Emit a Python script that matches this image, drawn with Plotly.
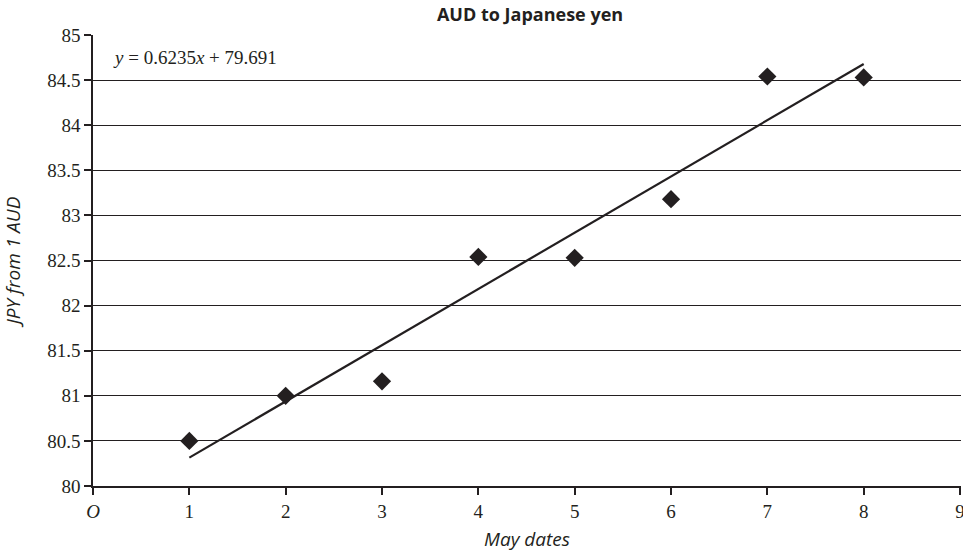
import plotly.graph_objects as go

# Data
may_dates = [1, 2, 3, 4, 5, 6, 7, 8]
jpy_per_aud = [80.5, 81.0, 81.16, 82.54, 82.53, 83.18, 84.54, 84.53]

# Trendline (as stated on the chart)
slope = 0.6235
intercept = 79.691
trend_x = [1, 8]
trend_y = [slope * x + intercept for x in trend_x]

x_tickvals = [0, 1, 2, 3, 4, 5, 6, 7, 8, 9]
x_ticktext = ["<i>O</i>", "1", "2", "3", "4", "5", "6", "7", "8", "9"]
y_tickvals = [80, 80.5, 81, 81.5, 82, 82.5, 83, 83.5, 84, 84.5, 85]
y_ticktext = ["80", "80.5", "81", "81.5", "82", "82.5", "83", "83.5", "84", "84.5", "85"]

serif = "Liberation Serif"
sans = "Open Sans"
ink = "#231f20"

fig = go.Figure()
fig.add_trace(go.Scatter(
    x=trend_x, y=trend_y, mode="lines",
    line=dict(color=ink, width=2.2), showlegend=False, hoverinfo="skip"))
fig.add_trace(go.Scatter(
    x=may_dates, y=jpy_per_aud, mode="markers",
    marker=dict(symbol="diamond", size=14, color=ink, line=dict(width=0)),
    showlegend=False))

fig.add_annotation(
    x=0.19, y=84.75, xref="x", yref="y", xanchor="left", yanchor="middle",
    text="<i>y</i> = 0.6235<i>x</i> + 79.691", showarrow=False,
    font=dict(family=serif, size=19, color=ink))

fig.update_layout(
    width=963, height=556,
    margin=dict(l=93, r=2, t=35, b=70),
    paper_bgcolor="white", plot_bgcolor="white",
    title=dict(text="<b>AUD to Japanese yen</b>", x=0.5504, xref="container", xanchor="center",
               y=0.973, yref="container", yanchor="middle",
               font=dict(family=sans, size=18, color=ink)),
    xaxis=dict(range=[0, 9.01], tickvals=x_tickvals, ticktext=x_ticktext, automargin=False,
               ticklabeloverflow="allow",
               showgrid=False, zeroline=False, showline=True, linecolor=ink, linewidth=1.5,
               ticks="outside", ticklen=7, tickcolor=ink, tickwidth=1.5,
               tickfont=dict(family=serif, size=19, color=ink),
               title=dict(text="<i>May dates</i>", standoff=12,
                          font=dict(family=sans, size=19, color=ink))),
    yaxis=dict(range=[80, 85], tickvals=y_tickvals, ticktext=y_ticktext, automargin=False,
               ticklabeloverflow="allow",
               showgrid=True, gridcolor=ink, gridwidth=1.2,
               zeroline=False, showline=True, linecolor=ink, linewidth=1.5,
               ticks="outside", ticklen=7, tickcolor=ink, tickwidth=1.5,
               tickfont=dict(family=serif, size=19, color=ink),
               title=dict(text="<i>JPY from 1 AUD</i>", standoff=30,
                          font=dict(family=sans, size=19, color=ink))),
)

# remove the browser's default 8px body margin so the figure sits at the page origin
fig.write_html("out.html", config={"displayModeBar": False},
               post_script="document.body.style.margin='0px';")
